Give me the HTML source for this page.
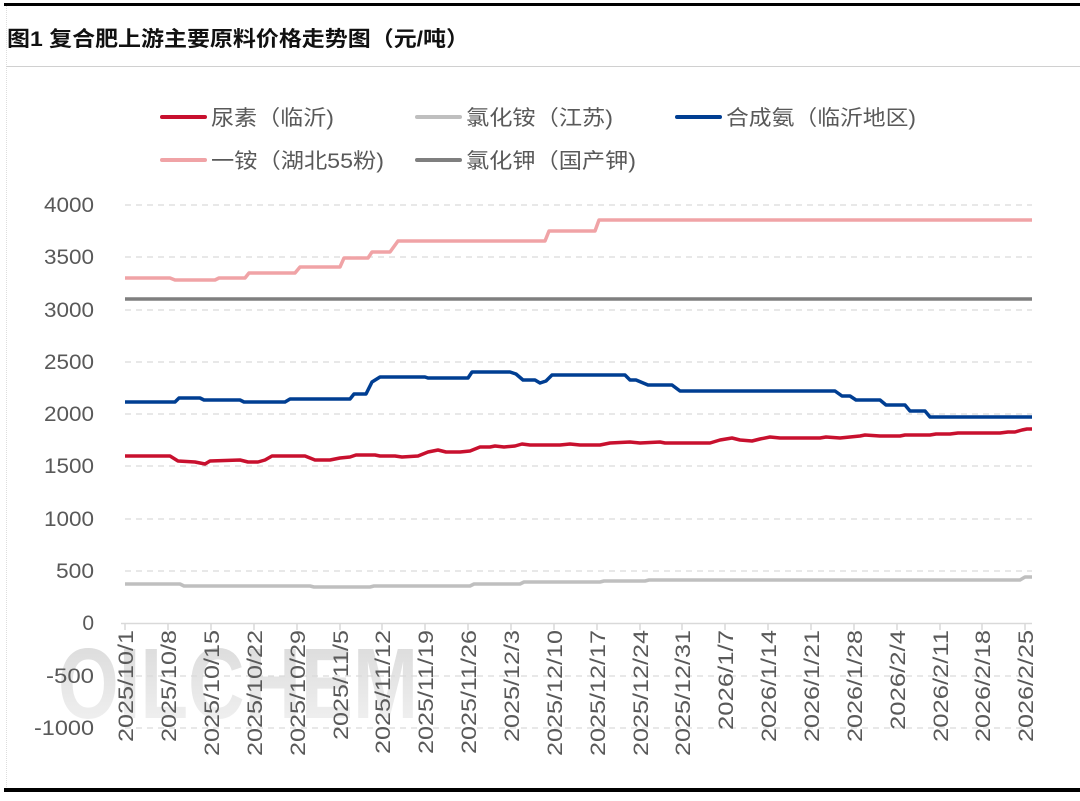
<!DOCTYPE html>
<html><head><meta charset="utf-8"><style>
body{margin:0;background:#fff;}
svg text{font-family:"Liberation Sans","Noto Sans CJK SC",sans-serif;}
</style></head><body>
<svg width="1080" height="796" viewBox="0 0 1080 796" xmlns="http://www.w3.org/2000/svg">
<defs><linearGradient id="wm" x1="0" y1="0" x2="0" y2="1"><stop offset="0" stop-color="#d8d8d8"/><stop offset="1" stop-color="#f4f4f4"/></linearGradient></defs>
<rect x="0" y="0" width="1080" height="796" fill="#fff"/>
<rect x="4" y="3" width="1076" height="3" fill="#000"/>
<rect x="4" y="788" width="1076" height="4" fill="#000"/>
<line x1="6.5" y1="6" x2="6.5" y2="788" stroke="#ddd" stroke-dasharray="1,1"/>
<line x1="6" y1="66.5" x2="1080" y2="66.5" stroke="#d0d0d0"/>
<text x="7" y="46" font-size="21" font-weight="bold" fill="#111" textLength="462" lengthAdjust="spacingAndGlyphs">图1  复合肥上游主要原料价格走势图（元/吨）</text>
<text x="58" y="718" font-size="100" font-weight="bold" fill="url(#wm)" textLength="360" lengthAdjust="spacingAndGlyphs">OILCHEM</text>
<g stroke="#d9d9d9" stroke-width="1.3" stroke-dasharray="6,5">
<line x1="125" y1="205" x2="1032" y2="205"/><line x1="125" y1="257" x2="1032" y2="257"/>
<line x1="125" y1="310" x2="1032" y2="310"/><line x1="125" y1="362" x2="1032" y2="362"/>
<line x1="125" y1="414" x2="1032" y2="414"/><line x1="125" y1="466" x2="1032" y2="466"/>
<line x1="125" y1="519" x2="1032" y2="519"/><line x1="125" y1="571" x2="1032" y2="571"/>
<line x1="125" y1="676" x2="1032" y2="676"/><line x1="125" y1="728" x2="1032" y2="728"/>
</g>
<line x1="121" y1="623.5" x2="1032" y2="623.5" stroke="#d9d9d9" stroke-width="1.5"/>
<g stroke="#d9d9d9" stroke-width="1.5">
<line x1="125" y1="623" x2="125" y2="630"/><line x1="168" y1="623" x2="168" y2="630"/><line x1="211" y1="623" x2="211" y2="630"/><line x1="254" y1="623" x2="254" y2="630"/><line x1="297" y1="623" x2="297" y2="630"/><line x1="340" y1="623" x2="340" y2="630"/><line x1="382" y1="623" x2="382" y2="630"/><line x1="425" y1="623" x2="425" y2="630"/><line x1="468" y1="623" x2="468" y2="630"/><line x1="511" y1="623" x2="511" y2="630"/><line x1="554" y1="623" x2="554" y2="630"/><line x1="597" y1="623" x2="597" y2="630"/><line x1="640" y1="623" x2="640" y2="630"/><line x1="682" y1="623" x2="682" y2="630"/><line x1="725" y1="623" x2="725" y2="630"/><line x1="768" y1="623" x2="768" y2="630"/><line x1="811" y1="623" x2="811" y2="630"/><line x1="854" y1="623" x2="854" y2="630"/><line x1="897" y1="623" x2="897" y2="630"/><line x1="940" y1="623" x2="940" y2="630"/><line x1="982" y1="623" x2="982" y2="630"/><line x1="1025" y1="623" x2="1025" y2="630"/>
</g>
<g font-size="21" fill="#595959" text-anchor="end">
<text x="94" y="212" textLength="50" lengthAdjust="spacingAndGlyphs">4000</text><text x="94" y="264" textLength="50" lengthAdjust="spacingAndGlyphs">3500</text><text x="94" y="317" textLength="50" lengthAdjust="spacingAndGlyphs">3000</text><text x="94" y="369" textLength="50" lengthAdjust="spacingAndGlyphs">2500</text><text x="94" y="421" textLength="50" lengthAdjust="spacingAndGlyphs">2000</text><text x="94" y="473" textLength="50" lengthAdjust="spacingAndGlyphs">1500</text><text x="94" y="526" textLength="50" lengthAdjust="spacingAndGlyphs">1000</text><text x="94" y="578" textLength="38" lengthAdjust="spacingAndGlyphs">500</text><text x="94" y="630">0</text><text x="94" y="683" textLength="48" lengthAdjust="spacingAndGlyphs">-500</text><text x="94" y="735" textLength="60" lengthAdjust="spacingAndGlyphs">-1000</text>
</g>
<g font-size="21" fill="#595959" text-anchor="end">
<text transform="translate(133,630) rotate(-90)" textLength="112" lengthAdjust="spacingAndGlyphs">2025/10/1</text>
<text transform="translate(176,630) rotate(-90)" textLength="112" lengthAdjust="spacingAndGlyphs">2025/10/8</text>
<text transform="translate(219,630) rotate(-90)" textLength="126" lengthAdjust="spacingAndGlyphs">2025/10/15</text>
<text transform="translate(262,630) rotate(-90)" textLength="126" lengthAdjust="spacingAndGlyphs">2025/10/22</text>
<text transform="translate(305,630) rotate(-90)" textLength="126" lengthAdjust="spacingAndGlyphs">2025/10/29</text>
<text transform="translate(348,630) rotate(-90)" textLength="110" lengthAdjust="spacingAndGlyphs">2025/11/5</text>
<text transform="translate(390,630) rotate(-90)" textLength="124" lengthAdjust="spacingAndGlyphs">2025/11/12</text>
<text transform="translate(433,630) rotate(-90)" textLength="124" lengthAdjust="spacingAndGlyphs">2025/11/19</text>
<text transform="translate(476,630) rotate(-90)" textLength="124" lengthAdjust="spacingAndGlyphs">2025/11/26</text>
<text transform="translate(519,630) rotate(-90)" textLength="112" lengthAdjust="spacingAndGlyphs">2025/12/3</text>
<text transform="translate(562,630) rotate(-90)" textLength="126" lengthAdjust="spacingAndGlyphs">2025/12/10</text>
<text transform="translate(605,630) rotate(-90)" textLength="126" lengthAdjust="spacingAndGlyphs">2025/12/17</text>
<text transform="translate(648,630) rotate(-90)" textLength="126" lengthAdjust="spacingAndGlyphs">2025/12/24</text>
<text transform="translate(690,630) rotate(-90)" textLength="126" lengthAdjust="spacingAndGlyphs">2025/12/31</text>
<text transform="translate(733,630) rotate(-90)" textLength="100" lengthAdjust="spacingAndGlyphs">2026/1/7</text>
<text transform="translate(776,630) rotate(-90)" textLength="112" lengthAdjust="spacingAndGlyphs">2026/1/14</text>
<text transform="translate(819,630) rotate(-90)" textLength="112" lengthAdjust="spacingAndGlyphs">2026/1/21</text>
<text transform="translate(862,630) rotate(-90)" textLength="112" lengthAdjust="spacingAndGlyphs">2026/1/28</text>
<text transform="translate(905,630) rotate(-90)" textLength="100" lengthAdjust="spacingAndGlyphs">2026/2/4</text>
<text transform="translate(948,630) rotate(-90)" textLength="112" lengthAdjust="spacingAndGlyphs">2026/2/11</text>
<text transform="translate(990,630) rotate(-90)" textLength="112" lengthAdjust="spacingAndGlyphs">2026/2/18</text>
<text transform="translate(1033,630) rotate(-90)" textLength="112" lengthAdjust="spacingAndGlyphs">2026/2/25</text>
</g>
<g fill="none" stroke-width="3.5" stroke-linejoin="round">
<polyline stroke="#bfbfbf" points="125,584 180,584 184,586 310,586 314,587 370,587 374,586 470,586 474,584 520,584 524,582 600,582 604,581 645,581 649,580 1020,580 1025,577 1032,577"/>
<polyline stroke="#7f7f7f" points="125,299 1032,299"/>
<polyline stroke="#f0a3a6" points="125,278 170,278 175,280 215,280 219,278 245,278 249,273 295,273 300,267 340,267 344,258 368,258 372,252 390,252 398,241 545,241 549,231 595,231 599,220 1032,220"/>
<polyline stroke="#003e92" points="125,402 175,402 179,398 200,398 204,400 240,400 244,402 285,402 290,399 350,399 354,394 366,394 372,382 380,377 425,377 428,378 468,378 472,372 510,372 516,374 523,380 535,380 540,383 546,381 552,375 625,375 630,380 636,380 648,385 672,385 680,391 835,391 842,396 850,396 856,400 880,400 886,405 905,405 910,411 925,411 930,417 1032,417"/>
<polyline stroke="#c8102e" points="125,456 170,456 178,461 195,462 205,464 210,461 240,460 248,462 258,462 265,460 272,456 305,456 315,460 330,460 340,458 350,457 356,455 375,455 380,456 395,456 402,457 418,456 428,452 438,450 446,452 460,452 470,451 480,447 490,447 495,446 504,447 515,446 522,444 530,445 560,445 570,444 580,445 600,445 610,443 630,442 640,443 660,442 665,443 710,443 720,440 732,438 740,440 752,441 760,439 770,437 780,438 820,438 826,437 840,438 850,437 860,436 865,435 880,436 900,436 905,435 930,435 936,434 950,434 958,433 1000,433 1008,432 1015,432 1022,430 1027,429 1032,429"/>
</g>
<g stroke-width="4" stroke-linecap="round">
<line x1="162" y1="117" x2="205" y2="117" stroke="#c8102e"/>
<line x1="417" y1="117" x2="460" y2="117" stroke="#bfbfbf"/>
<line x1="677" y1="117" x2="720" y2="117" stroke="#003e92"/>
<line x1="162" y1="160" x2="205" y2="160" stroke="#f0a3a6"/>
<line x1="417" y1="160" x2="460" y2="160" stroke="#7f7f7f"/>
</g>
<g font-size="21" fill="#595959">
<text x="211" y="125" textLength="123" lengthAdjust="spacingAndGlyphs">尿素（临沂)</text>
<text x="466" y="125" textLength="147" lengthAdjust="spacingAndGlyphs">氯化铵（江苏)</text>
<text x="726" y="125" textLength="190" lengthAdjust="spacingAndGlyphs">合成氨（临沂地区)</text>
<text x="211" y="168" textLength="173" lengthAdjust="spacingAndGlyphs">一铵（湖北55粉)</text>
<text x="466" y="168" textLength="170" lengthAdjust="spacingAndGlyphs">氯化钾（国产钾)</text>
</g>
</svg>
</body></html>
